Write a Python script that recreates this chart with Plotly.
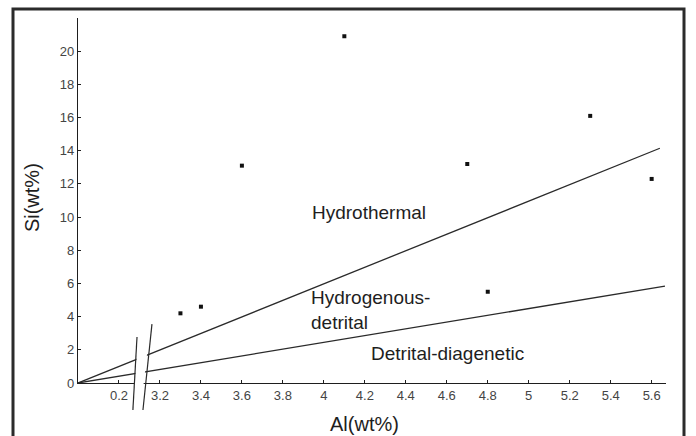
import plotly.graph_objects as go

# ---- data (Al in wt%, Si in wt%) ----
al_points = [3.3, 3.4, 3.6, 4.1, 4.7, 4.8, 5.3, 5.6]
si_points = [4.2, 4.6, 13.1, 20.9, 13.2, 5.5, 16.1, 12.3]

upper_line_al = [0.0, 5.64]
upper_line_si = [0.0, 14.15]
lower_line_al = [0.0, 5.665]
lower_line_si = [0.0, 5.84]

x_tick_labels = ["0.2", "3.2", "3.4", "3.6", "3.8", "4", "4.2", "4.4",
                 "4.6", "4.8", "5", "5.2", "5.4", "5.6"]
y_ticks = [0, 2, 4, 6, 8, 10, 12, 14, 16, 18, 20]

region_labels = ["Hydrothermal", "Hydrogenous-<br>detrital", "Detrital-diagenetic"]

# broken axis: 0..0.2 then 3.2.. (shift by 2.8)
BREAK_SHIFT = 2.8


def to_u(al):
    return al if al < 1.0 else al - BREAK_SHIFT


X_MAX = 2.87
Y_MAX = 22.0

INK = "#1e1e1e"
FONT = "Liberation Sans, Arial, sans-serif"

fig = go.Figure()

for al_vals, si_vals in [(upper_line_al, upper_line_si), (lower_line_al, lower_line_si)]:
    fig.add_trace(go.Scatter(
        x=[to_u(a) for a in al_vals], y=si_vals, mode="lines",
        line=dict(color="#2a2a2a", width=1.3), hoverinfo="skip", showlegend=False))

fig.add_trace(go.Scatter(
    x=[to_u(a) for a in al_points], y=si_points, mode="markers",
    marker=dict(symbol="square", size=4, color="#111111"),
    showlegend=False))

# region labels
fig.add_annotation(x=to_u(4.22), y=10.3, text=region_labels[0], showarrow=False,
                   xanchor="center", yanchor="middle",
                   font=dict(family=FONT, size=19, color=INK))
fig.add_annotation(x=to_u(3.927), y=4.4, text=region_labels[1], showarrow=False,
                   xanchor="left", yanchor="middle", align="left",
                   font=dict(family=FONT, size=19, color=INK))
fig.add_annotation(x=to_u(4.605), y=1.8, text=region_labels[2], showarrow=False,
                   xanchor="center", yanchor="middle",
                   font=dict(family=FONT, size=19, color=INK))

# axis titles
fig.add_annotation(xref="paper", yref="paper", x=0.488, y=-0.112, text="Al(wt%)",
                   showarrow=False, xanchor="center", yanchor="middle",
                   font=dict(family=FONT, size=20, color=INK))
fig.add_annotation(xref="paper", yref="paper", x=-0.078, y=0.507, text="Si(wt%)",
                   showarrow=False, xanchor="center", yanchor="middle", textangle=-90,
                   font=dict(family=FONT, size=20, color=INK))


def px(u):
    return u / X_MAX


def py(s):
    return s / Y_MAX


# axis break: white gap + two slashes
l_b, l_t = (0.268, -1.63), (0.288, 2.77)
r_b, r_t = (0.317, -1.63), (0.361, 3.55)
gap_path = (f"M {px(l_b[0]+0.006)},{py(-0.6)} L {px(l_t[0]+0.004)},{py(2.6)} "
            f"L {px(r_t[0]-0.012)},{py(3.0)} L {px(r_b[0]-0.002)},{py(-0.6)} Z")
fig.add_shape(type="path", xref="paper", yref="paper", path=gap_path,
              fillcolor="white", line=dict(width=0), layer="above")
for (b, t) in [(l_b, l_t), (r_b, r_t)]:
    fig.add_shape(type="line", xref="paper", yref="paper",
                  x0=px(b[0]), y0=py(b[1]), x1=px(t[0]), y1=py(t[1]),
                  line=dict(color="#2a2a2a", width=1.2), layer="above")

# outer frame (open at bottom)
W = 588.0
H = 365.0
fl = (13 - 78) / W
fr = (684 - 78) / W
ft = 1 + (383 - 9 - 365) / H
fb = (383 - 445) / H
fig.add_shape(type="path", xref="paper", yref="paper",
              path=f"M {fl},{fb} L {fl},{ft} L {fr},{ft} L {fr},{fb}",
              line=dict(color="#2b2b2b", width=3), layer="above")

fig.update_xaxes(
    range=[0, X_MAX], showgrid=False, zeroline=False,
    showline=True, linecolor=INK, linewidth=1.4,
    tickmode="array", tickvals=[to_u(float(t)) for t in x_tick_labels],
    ticktext=x_tick_labels, ticks="inside", ticklen=3, tickcolor=INK,
    tickfont=dict(family=FONT, size=13, color="#444444"))
fig.update_yaxes(
    range=[0, Y_MAX], showgrid=False, zeroline=False,
    showline=True, linecolor=INK, linewidth=1.4,
    tickmode="array", tickvals=y_ticks, ticktext=[str(v) for v in y_ticks],
    ticks="inside", ticklen=3, tickcolor=INK,
    tickfont=dict(family=FONT, size=13, color="#444444"))

fig.update_layout(
    width=696, height=436,
    margin=dict(l=78, r=696 - 78 - 588, t=18, b=436 - 18 - 365),
    paper_bgcolor="white", plot_bgcolor="white",
    showlegend=False)

fig.write_html("out.html")
